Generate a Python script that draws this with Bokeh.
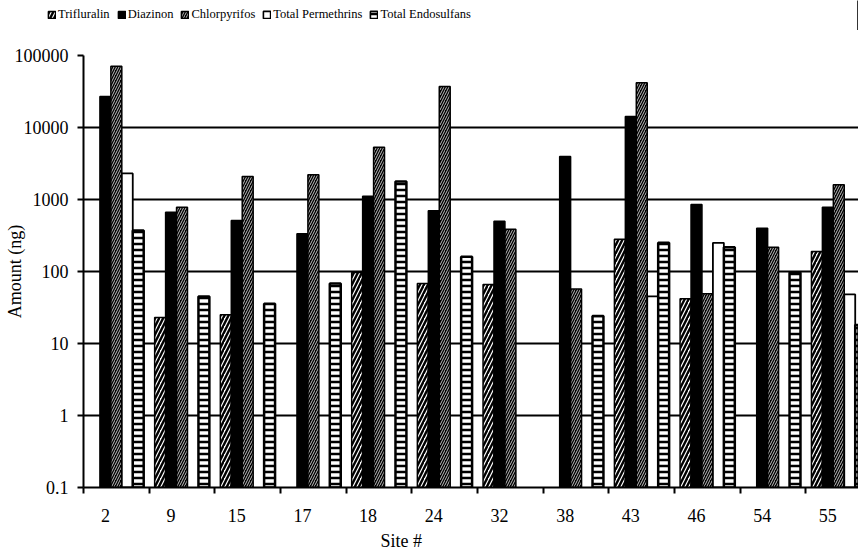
import math
from bokeh.plotting import figure
from bokeh.layouts import column
from bokeh.models import (ColumnDataSource, FixedTicker, NumeralTickFormatter, Legend,
                          LegendItem, Title, Range1d)
from bokeh.transform import dodge
from bokeh.embed import file_html
from bokeh.resources import INLINE

# ---- data ----
sites = ["2", "9", "15", "17", "18", "24", "32", "38", "43", "46", "54", "55"]
trifluralin = [None, 23, 25, None, 97, 68, 66, None, 280, 42, None, 190]
diazinon = [27000, 665, 510, 335, 1110, 700, 500, 3950, 14200, 850, 400, 780]
chlorpyrifos = [71000, 780, 2090, 2200, 5330, 37000, 385, 57, 42000, 49, 218, 1600]
permethrins = [2300, None, None, None, None, None, None, None, 45, 250, None, 48]
endosulfans = [370, 45, 35.6, 68, 1780, 160, None, 24, 250, 218, 97, 18]
series_names = ["Trifluralin", "Diazinon", "Chlorpyrifos", "Total Permethrins", "Total Endosulfans"]
y_ticks = [0.1, 1, 10, 100, 1000, 10000, 100000]

series = [trifluralin, diazinon, chlorpyrifos, permethrins, endosulfans]

SERIF = "Liberation Serif"
SLOT = 3.0  # each site occupies SLOT units on the x axis

styles = [
    dict(fill_color="white", hatch_pattern="/", hatch_color="black", hatch_scale=8, hatch_weight=2.4),
    dict(fill_color="black"),
    dict(fill_color="black", hatch_pattern="/", hatch_color="white", hatch_scale=5, hatch_weight=0.75),
    dict(fill_color="white"),
    dict(fill_color="white", hatch_pattern="-", hatch_color="black", hatch_scale=6, hatch_weight=2.5),
]
line_widths = [1.5, 1.5, 1.5, 1.8, 2.5]

# ---- legend strip ----
lf = figure(width=858, height=30, output_backend="svg", toolbar_location=None,
            x_axis_location=None, y_axis_location=None, x_range=Range1d(0, 1), y_range=Range1d(0, 1),
            min_border_left=0, min_border_right=0, min_border_top=0, min_border_bottom=0)
lf.outline_line_color = None
lf.xgrid.visible = False
lf.ygrid.visible = False
lf.frame_align = False

# ---- main chart ----
p = figure(width=858, height=527, output_backend="svg", toolbar_location=None,
           y_axis_type="log", x_range=Range1d(0, SLOT * 11.80), y_range=Range1d(0.1, 100000),
           min_border_left=83, min_border_right=0, min_border_top=25, min_border_bottom=70)
p.outline_line_color = None
p.background_fill_color = "white"
p.border_fill_color = "white"
p.frame_align = False

items = []
for k, (name, vals) in enumerate(zip(series_names, series)):
    pos = [SLOT * i for i, v in enumerate(vals) if v is not None]
    top = [v for v in vals if v is not None]
    src = ColumnDataSource(dict(pos=pos, top=top))
    p.vbar(x=dodge("pos", 0.5 + 0.5 * k), top="top", bottom=0.1, width=0.5, source=src,
           line_color="black", line_width=line_widths[k], **styles[k])
    # legend-only renderer: one sample kept outside the strip's visible range
    lr = lf.vbar(x=[5], top=[1], width=0.1, line_color="black", line_width=min(line_widths[k], 1.6),
                 **styles[k])
    items.append(LegendItem(label=name, renderers=[lr]))

legend = Legend(items=items, orientation="horizontal", location=(47, 8),
                border_line_color=None, background_fill_alpha=0, padding=0, margin=0,
                spacing=7, label_standoff=2, glyph_width=9, glyph_height=9,
                label_text_font=SERIF, label_text_font_size="12.5px", label_text_color="black")
lf.add_layout(legend, "center")

# y axis
p.yaxis.ticker = FixedTicker(ticks=y_ticks, minor_ticks=[])
p.yaxis.formatter = NumeralTickFormatter(format="0.[0]")
p.yaxis.major_label_text_font = SERIF
p.yaxis.major_label_text_font_size = "18px"
p.yaxis.major_label_text_color = "black"
p.yaxis.major_label_standoff = 9
p.yaxis.major_tick_out = 6
p.yaxis.major_tick_in = 0
p.yaxis.major_tick_line_width = 2
p.yaxis.major_tick_line_color = "black"
p.yaxis.axis_line_width = 2
p.yaxis.axis_line_color = "black"
p.yaxis.minor_tick_line_color = None
p.yaxis.axis_label = "Amount (ng)"
p.yaxis.axis_label_text_font = SERIF
p.yaxis.axis_label_text_font_size = "18px"
p.yaxis.axis_label_text_font_style = "normal"
p.yaxis.axis_label_text_color = "black"
p.yaxis.axis_label_standoff = -13

# x axis
p.xaxis.ticker = FixedTicker(ticks=[SLOT * i + 1 for i in range(len(sites))],
                             minor_ticks=[SLOT * i for i in range(len(sites) + 1)])
p.xaxis.major_label_overrides = {SLOT * i + 1: s for i, s in enumerate(sites)}
p.xaxis.major_label_text_font = SERIF
p.xaxis.major_label_text_font_size = "18px"
p.xaxis.major_label_text_color = "black"
p.xaxis.major_tick_line_color = None
p.xaxis.major_tick_out = 6
p.xaxis.major_label_standoff = 15
p.xaxis.minor_tick_out = 6
p.xaxis.minor_tick_in = 0
p.xaxis.minor_tick_line_width = 2
p.xaxis.minor_tick_line_color = "black"
p.xaxis.axis_line_width = 2
p.xaxis.axis_line_color = "black"

p.xgrid.grid_line_color = None
p.ygrid.grid_line_color = "black"
p.ygrid.grid_line_width = 1.8
p.ygrid.ticker = FixedTicker(ticks=y_ticks)

p.add_layout(Title(text="Site #", align="left", offset=297, standoff=9,
                   text_font=SERIF, text_font_size="18px", text_font_style="normal",
                   text_color="black"), "below")

open("out.html", "w").write(file_html(column(lf, p, spacing=0), INLINE))
